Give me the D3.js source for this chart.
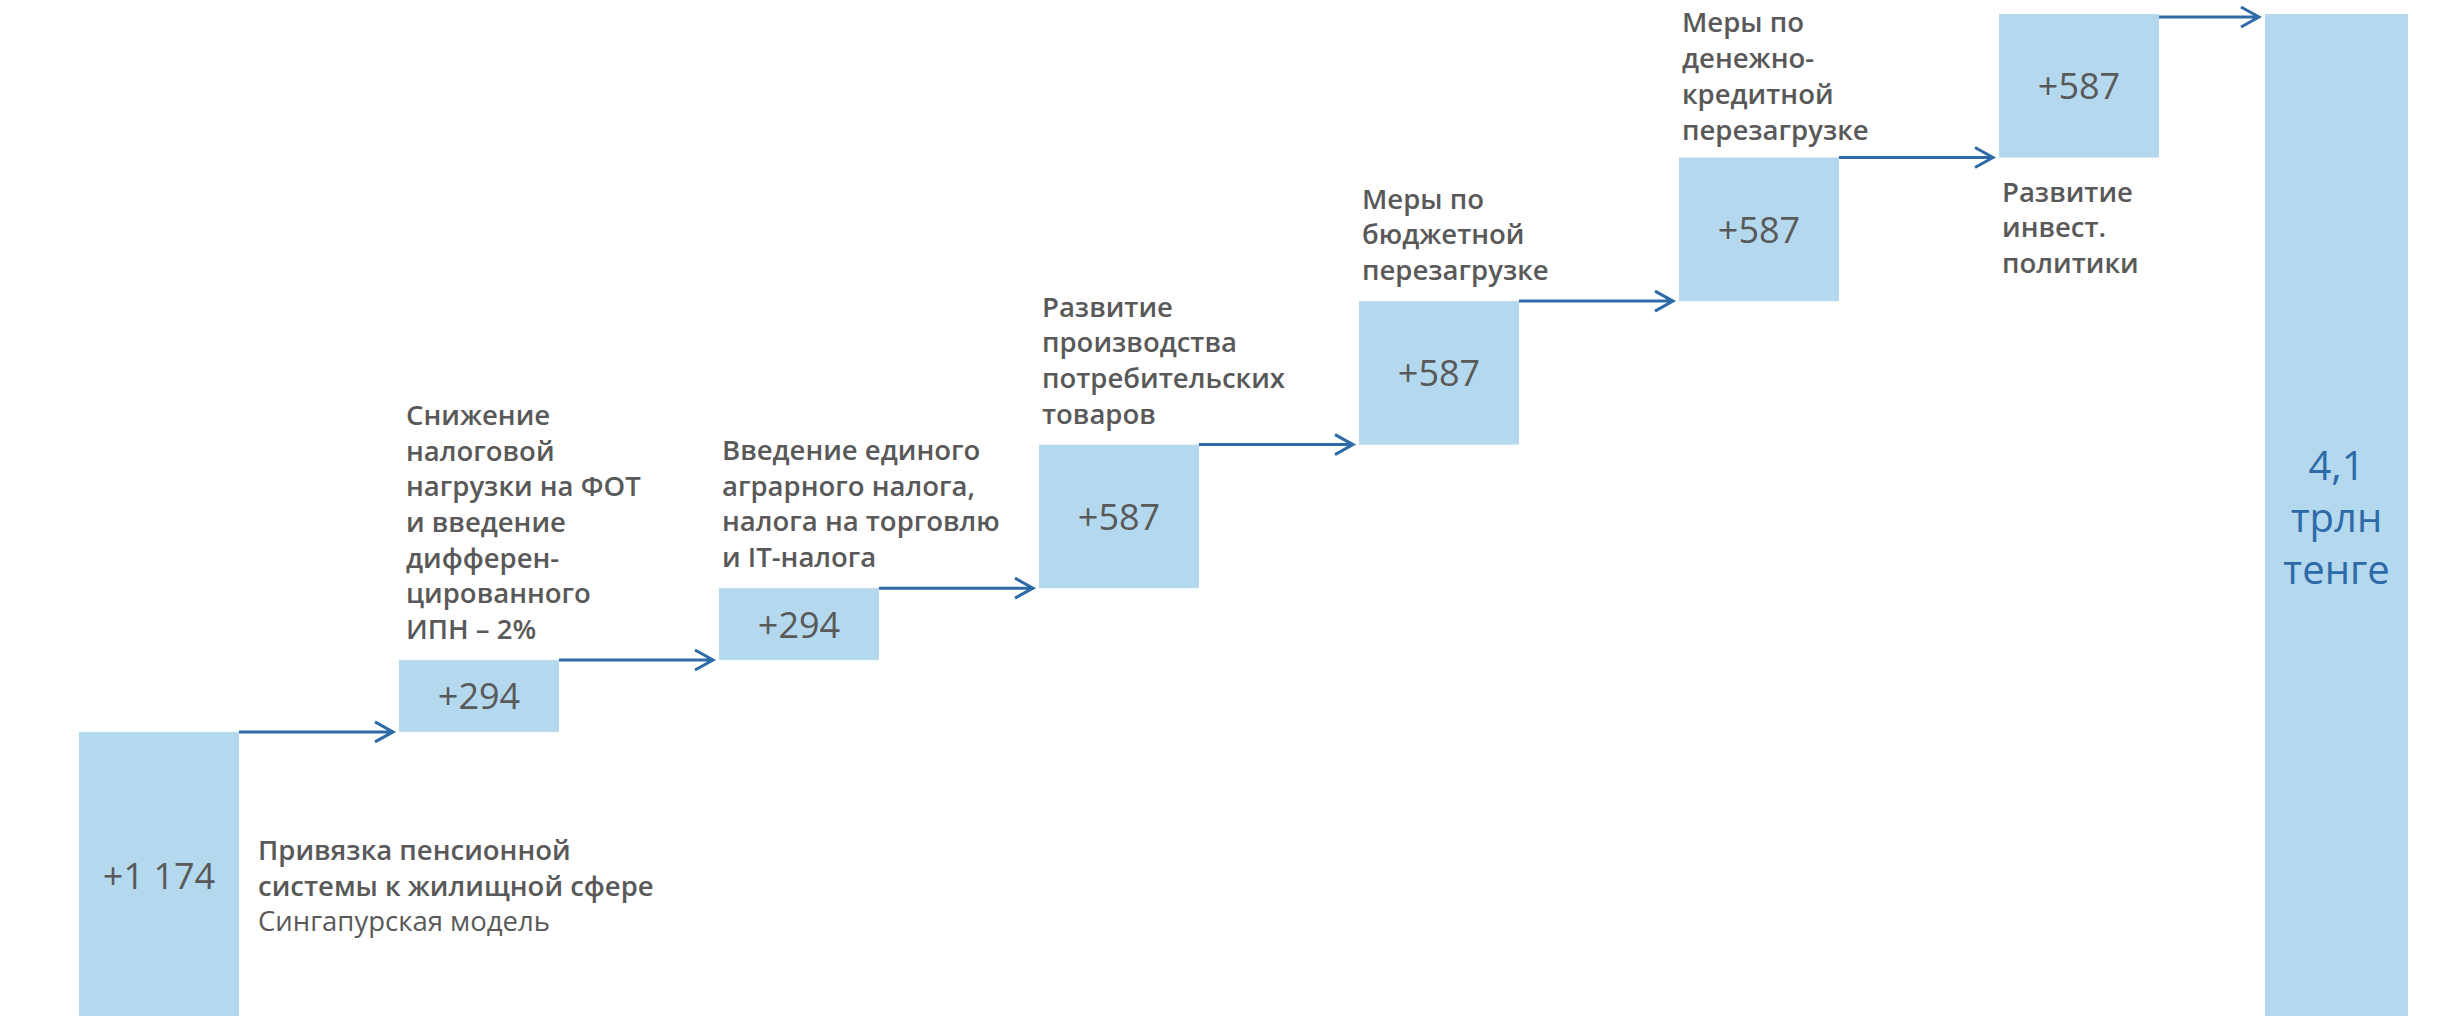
<!DOCTYPE html>
<meta charset="utf-8">
<html>
<head>
<title></title>
<script src="https://cdn.jsdelivr.net/npm/d3@7"></script>
<style>
body { margin: 0; background: #fff; }
text { font-family: "Open Sans", sans-serif; }
.bar { fill: #b4d8ee; }
.val { fill: #595959; font-size: 36px; }
.desc { fill: #595959; font-size: 27.5px; font-weight: 600; }
.desc .sub { font-weight: 400; }
.arrow { fill: none; stroke: #2e6aa7; stroke-width: 3px; }
.total { fill: #2e6aa7; font-size: 40px; }
</style>
</head>
<body>
<script>

// steps of the waterfall, млрд тенге
var values = [1174, 294, 294, 587, 587, 587, 587];
var descriptions = [
  ["Привязка пенсионной", "системы к жилищной сфере"],
  ["Снижение", "налоговой", "нагрузки на ФОТ", "и введение", "дифферен-", "цированного", "ИПН – 2%"],
  ["Введение единого", "аграрного налога,", "налога на торговлю", "и IT-налога"],
  ["Развитие", "производства", "потребительских", "товаров"],
  ["Меры по", "бюджетной", "перезагрузке"],
  ["Меры по", "денежно-", "кредитной", "перезагрузке"],
  ["Развитие", "инвест.", "политики"]
];
var subNotes = ["Сингапурская модель", null, null, null, null, null, null];
var totalValue = 4110;
var totalLines = ["4,1", "трлн", "тенге"];

var width = 2453,
    height = 1016;

var svg = d3.select("body").append("svg")
    .attr("width", width)
    .attr("height", height);

var locale = d3.formatLocale({decimal: ",", thousands: "\u00a0", grouping: [3], currency: ["", ""]});
var fmt = locale.format("+,");

// running totals
var steps = [];
var acc = 0;
values.forEach(function(v, i) {
  steps.push({i: i, v: v, start: acc, end: acc + v, lines: descriptions[i], sub: subNotes[i]});
  acc += v;
});

var y = d3.scaleLinear()
    .domain([0, totalValue])
    .range([1019, 14]);

var barW = 160;
var x = d3.scaleLinear()
    .domain([0, values.length - 1])
    .range([79, 1999]);

var totalX = 2265, totalW = 143;

// arrows first
var arrowG = svg.append("g");
steps.forEach(function(d, i) {
  var x0 = x(i) + barW;
  var x1 = (i < steps.length - 1 ? x(i + 1) : totalX) - 6;
  var yy = y(d.end) + (i == steps.length - 1 ? 3 : 0);
  arrowG.append("path")
      .attr("class", "arrow")
      .attr("d", "M" + x0 + "," + yy + "H" + x1 +
                 "M" + (x1 - 18) + "," + (yy - 10) + "L" + x1 + "," + yy + "L" + (x1 - 18) + "," + (yy + 10));
});

// step bars
var bars = svg.append("g")
  .selectAll("g")
  .data(steps)
  .enter().append("g");

bars.append("rect")
    .attr("class", "bar")
    .attr("x", function(d) { return x(d.i); })
    .attr("y", function(d) { return y(d.end); })
    .attr("width", barW)
    .attr("height", function(d) { return y(d.start) - y(d.end); });

bars.append("text")
    .attr("class", "val")
    .attr("text-anchor", "middle")
    .attr("dominant-baseline", "central")
    .attr("x", function(d) { return x(d.i) + barW / 2; })
    .attr("y", function(d) {
      var mid = (y(d.start) + y(d.end)) / 2;
      return d.i == 0 ? Math.min(mid, 884) : mid;
    })
    .text(function(d) { return fmt(d.v); });

// descriptions
var lh = 35.7;
bars.each(function(d) {
  var g = d3.select(this);
  var n = d.lines.length;
  var tx, ty0;
  if (d.i == 0) {
    tx = x(d.i) + barW + 19;
    ty0 = 860;
  } else if (d.i == steps.length - 1) {
    tx = x(d.i) + 3;
    ty0 = y(d.start) + 44;
  } else {
    tx = x(d.i) + (d.i == 1 ? 7 : 3);
    ty0 = y(d.end) - 21 - (n - 1) * lh + (d.i == 5 ? 3 : 0);
  }
  var t = g.append("text")
      .attr("class", "desc")
      .attr("x", tx)
      .attr("y", ty0);
  d.lines.forEach(function(l, k) {
    t.append("tspan")
        .attr("x", tx)
        .attr("y", ty0 + k * lh)
        .text(l);
  });
  if (d.sub) {
    t.append("tspan")
        .attr("class", "sub")
        .attr("x", tx)
        .attr("y", ty0 + n * lh)
        .text(d.sub);
  }
});

// total bar
svg.append("rect")
    .attr("class", "bar")
    .attr("x", totalX)
    .attr("y", y(totalValue))
    .attr("width", totalW)
    .attr("height", y(0) - y(totalValue));

svg.append("g")
  .selectAll("text")
  .data(totalLines)
  .enter().append("text")
    .attr("class", "total")
    .attr("text-anchor", "middle")
    .attr("x", totalX + totalW / 2)
    .attr("y", function(d, k) { return 480 + k * 52; })
    .text(function(d) { return d; });

</script>
</body>
</html>
